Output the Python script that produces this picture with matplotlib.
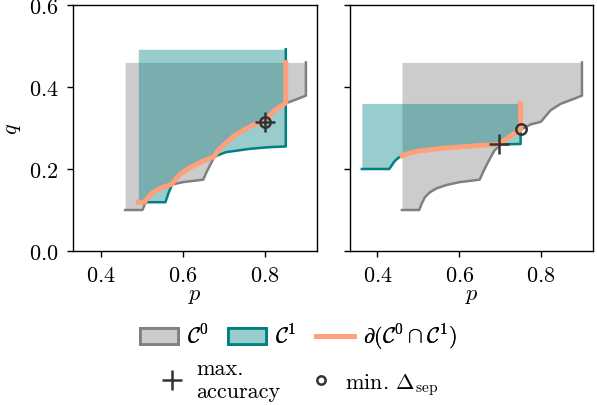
import numpy as np
import matplotlib
matplotlib.use("Agg")
import matplotlib.pyplot as plt
from matplotlib.patches import Patch
from matplotlib.lines import Line2D

plt.rcParams["font.family"] = "serif"
plt.rcParams["font.serif"] = ["cmr10"]
plt.rcParams["mathtext.fontset"] = "cm"
plt.rcParams["axes.formatter.use_mathtext"] = True
plt.rcParams["font.size"] = 16

# C0 (same region in both panels): lower boundary, top
c0_p = [0.46, 0.502, 0.505, 0.508, 0.516, 0.528, 0.545, 0.569, 0.601, 0.650, 0.654, 0.658, 0.670,
        0.677, 0.686, 0.698, 0.723, 0.747, 0.775, 0.799, 0.803, 0.807, 0.823, 0.848, 0.880, 0.90]
c0_q = [0.10, 0.10, 0.107, 0.115, 0.131, 0.143, 0.153, 0.161, 0.168, 0.174, 0.183, 0.192, 0.216,
        0.229, 0.245, 0.257, 0.279, 0.294, 0.309, 0.315, 0.319, 0.324, 0.343, 0.359, 0.371, 0.379]
c0_top = 0.46

# C1, left panel
c1l_p = [0.492, 0.558, 0.561, 0.565, 0.574, 0.584, 0.594, 0.619, 0.651, 0.672, 0.705, 0.762, 0.807, 0.851]
c1l_q = [0.119, 0.119, 0.128, 0.14, 0.162, 0.177, 0.188, 0.204, 0.220, 0.228, 0.241, 0.249, 0.253, 0.255]
c1l_top = 0.492

# C1, right panel
c1r_p = [0.362, 0.429, 0.434, 0.439, 0.445, 0.455, 0.475, 0.496, 0.561, 0.646, 0.694, 0.75]
c1r_q = [0.2, 0.2, 0.207, 0.215, 0.222, 0.230, 0.238, 0.243, 0.251, 0.257, 0.260, 0.261]
c1r_top = 0.36

# boundary of the intersection
bl_p = [0.492, 0.506, 0.516, 0.528, 0.545, 0.569, 0.574, 0.584, 0.594, 0.619, 0.651, 0.672,
        0.677, 0.686, 0.698, 0.723, 0.747, 0.775, 0.799, 0.803, 0.807, 0.823, 0.848, 0.851, 0.851]
bl_q = [0.119, 0.119, 0.131, 0.143, 0.153, 0.161, 0.164, 0.177, 0.188, 0.204, 0.220, 0.228,
        0.231, 0.245, 0.257, 0.279, 0.294, 0.309, 0.315, 0.319, 0.324, 0.343, 0.359, 0.362, 0.46]
br_p = [0.46, 0.475, 0.496, 0.561, 0.646, 0.694, 0.698, 0.723, 0.747, 0.75, 0.75]
br_q = [0.232, 0.238, 0.243, 0.251, 0.257, 0.260, 0.261, 0.279, 0.294, 0.296, 0.36]

# markers (p, q)
acc_pts = [(0.80, 0.315), (0.698, 0.26)]
sep_pts = [(0.80, 0.315), (0.75, 0.297)]

gray = "#808080"
teal = "teal"
orange = "#ffa07a"
mk = "0.2"

fig = plt.figure(figsize=(5.97, 4.06), dpi=100)
ax1 = fig.add_axes([73/597, 1-252/406, 244/597, 246/406])
ax2 = fig.add_axes([350/597, 1-252/406, 243/597, 246/406], sharex=ax1, sharey=ax1)

panels = [(ax1, c1l_p, c1l_q, c1l_top, bl_p, bl_q),
          (ax2, c1r_p, c1r_q, c1r_top, br_p, br_q)]
for i, (ax, tp, tq, ttop, bp, bq) in enumerate(panels):
    ax.fill_between(c0_p, c0_q, c0_top, color=gray, alpha=0.4, lw=0)
    ax.fill_between(tp, tq, ttop, color=teal, alpha=0.4, lw=0)
    ax.plot(c0_p + [c0_p[-1]], c0_q + [c0_top], color=gray, lw=1.8)
    ax.plot(tp + [tp[-1]], tq + [ttop], color=teal, lw=1.8)
    ax.plot(bp, bq, color=orange, lw=3.5)
    ax.plot(*acc_pts[i], marker="+", ms=14, mew=1.8, color=mk, ls="none")
    ax.plot(*sep_pts[i], marker="o", ms=7.5, mew=1.8, mfc="none", mec=mk, ls="none")
    ax.set_xlabel("$p$", labelpad=0)
    ax.tick_params(length=4.5, width=1.0, pad=6)
    for s in ax.spines.values():
        s.set_linewidth(1.0)

ax1.set_xlim(0.333, 0.927)
ax1.set_ylim(0, 0.6)
ax1.set_xticks([0.4, 0.6, 0.8])
ax1.set_yticks([0.0, 0.2, 0.4, 0.6])
ax1.set_ylabel("$q$", labelpad=4)
ax2.tick_params(labelleft=False)

h1 = [Patch(facecolor="#cccccc", edgecolor=gray, lw=2),
      Patch(facecolor="#99cccc", edgecolor=teal, lw=2),
      Line2D([], [], color=orange, lw=3.5)]
l1 = [r"$\mathcal{C}^0$", r"$\mathcal{C}^1$", r"$\partial(\mathcal{C}^0\cap\mathcal{C}^1)$"]
leg1 = fig.legend(h1, l1, loc="center", bbox_to_anchor=(0.5, 1-338/406), ncol=3, frameon=False,
                  handlelength=1.7, handletextpad=0.4, columnspacing=0.9, borderpad=0)

h2 = [Line2D([], [], marker="+", ms=14, mew=1.8, color=mk, ls="none"),
      Line2D([], [], marker="o", ms=6, mew=1.8, mfc="none", mec=mk, ls="none")]
l2 = ["max.\naccuracy", r"min. $\Delta_{\rm sep}$"]
leg2 = fig.legend(h2, l2, loc="center", bbox_to_anchor=(0.5, 1-381/406), ncol=2, frameon=False,
                  handlelength=1.2, handletextpad=0.5, columnspacing=1.2, borderpad=0)
fig.add_artist(leg1)

fig.savefig("out.png", dpi=100)
